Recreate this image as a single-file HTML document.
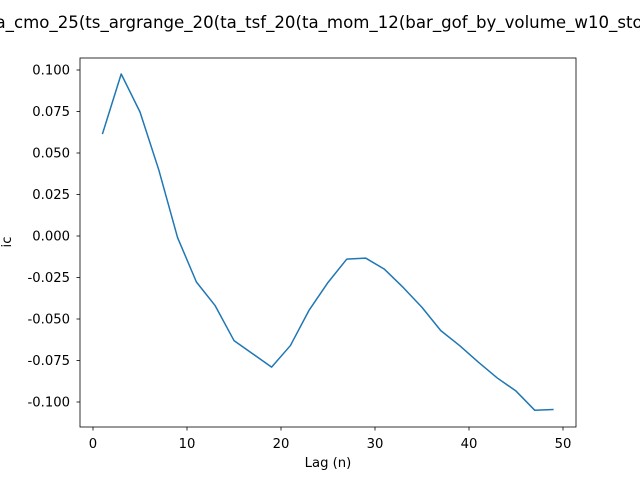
<!DOCTYPE html>
<html><head><meta charset="utf-8"><style>body{margin:0;background:#fff}svg{display:block;font-family:"DejaVu Sans","Liberation Sans",sans-serif}</style></head>
<body>
<svg id="chart" width="640" height="480" viewBox="0 0 640 480" xmlns="http://www.w3.org/2000/svg">
<rect width="640" height="480" fill="#fff"/>
<text x="-11" y="28" font-size="16.6">ta_cmo_25(ts_argrange_20(ta_tsf_20(ta_mom_12(bar_gof_by_volume_w10_stock))))</text>
<g id="plot"></g>
<rect x="80" y="58" width="496" height="369" fill="none" stroke="#000" stroke-width="0.8"/>
<text x="328" y="467" font-size="13.2" text-anchor="middle">Lag (n)</text>
<text x="11" y="242" font-size="13.2" text-anchor="middle" transform="rotate(-90 11 242)">ic</text>
</svg>
<script>
const lags=[1,3,5,7,9,11,13,15,17,19,21,23,25,27,29,31,33,35,37,39,41,43,45,47,49];
const icValues=[0.0614,0.0976,0.0747,0.0398,-0.001,-0.0277,-0.042,-0.063,-0.071,-0.079,-0.066,-0.0446,-0.028,-0.0139,-0.0133,-0.020,-0.031,-0.043,-0.057,-0.066,-0.076,-0.0855,-0.0934,-0.105,-0.1045];
const xTicks=[0,10,20,30,40,50];
const yTicks=[0.100,0.075,0.050,0.025,0.000,-0.025,-0.050,-0.075,-0.100];
const NS='http://www.w3.org/2000/svg';
const X=v=>93+v*9.4;
const Y=v=>236-v*1660;
const g=document.getElementById('plot');
function mk(t,a){const e=document.createElementNS(NS,t);for(const k in a)e.setAttribute(k,a[k]);g.appendChild(e);return e;}
xTicks.forEach(t=>{
  const l=mk('line',{x1:X(t),x2:X(t),y1:427,y2:430.5,stroke:'#000','stroke-width':0.8});
  
  
  const tx=mk('text',{x:X(t),y:448,'font-size':13.2,'text-anchor':'middle'});tx.textContent=t;
  
  
});
yTicks.forEach(t=>{
  const l=mk('line',{x1:76.5,x2:80,y1:Y(t),y2:Y(t),stroke:'#000','stroke-width':0.8});
  
  
  const tx=mk('text',{x:70,y:Y(t)+4.7,'font-size':13.2,'text-anchor':'end'});tx.textContent=t.toFixed(3);
  
  
});
const p=mk('polyline',{points:lags.map((l,i)=>X(l)+','+Y(icValues[i])).join(' '),fill:'none',stroke:'#1f77b4','stroke-width':1.5,'stroke-linejoin':'round'});


</script>
</body></html>
